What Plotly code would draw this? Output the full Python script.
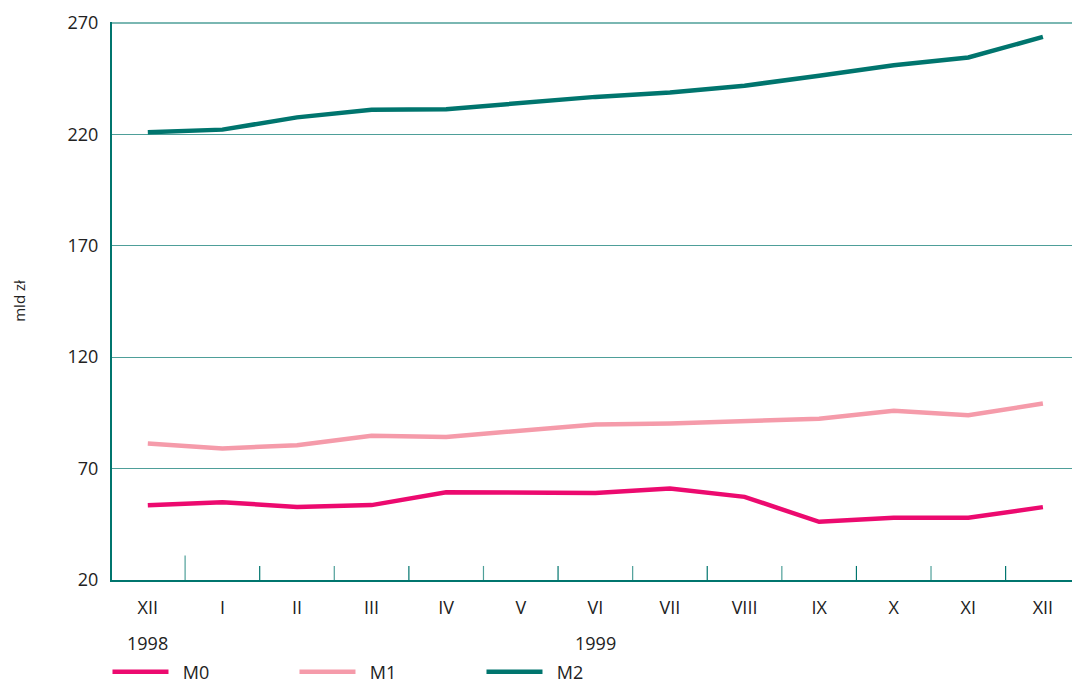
import plotly.graph_objects as go

months = ["XII", "I", "II", "III", "IV", "V", "VI", "VII", "VIII", "IX", "X", "XI", "XII"]
m0 = [53.5, 54.9, 52.8, 53.6, 59.4, 59.3, 59.0, 61.1, 57.3, 46.1, 47.9, 47.9, 52.7]
m1 = [81.2, 79.0, 80.5, 84.7, 84.2, 86.8, 89.8, 90.2, 91.4, 92.4, 95.9, 93.9, 99.2]
m2 = [220.9, 222.1, 227.6, 231.0, 231.3, 234.3, 236.8, 238.8, 241.8, 246.3, 251.0, 254.5, 263.7]
series_names = ["M0", "M1", "M2"]
colors = ["#EC0A6F", "#F59BAA", "#00756E"]
y_ticks = [20, 70, 120, 170, 220, 270]
years = [("1998", 0), ("1999", 6)]

FONT = "Open Sans"
TEAL = "#00756E"
GRID = "#4E9F99"

xs = list(range(len(months)))
fig = go.Figure()
for name, vals, col in zip(series_names, [m0, m1, m2], colors):
    fig.add_trace(go.Scatter(x=xs, y=vals, mode="lines", name="\u00a0\u00a0" + name,
                             line=dict(color=col, width=4.5)))

fig.update_layout(
    width=1072, height=683,
    margin=dict(l=112, r=0, t=22, b=103, autoexpand=False),
    paper_bgcolor="white", plot_bgcolor="white",
    font=dict(family=FONT, size=18, color="#222222"),
    showlegend=True,
    legend=dict(orientation="h", x=-0.0047, xanchor="left", y=-0.165, yanchor="middle",
                itemwidth=56, entrywidth=116, entrywidthmode="pixels",
                font=dict(family=FONT, size=18, color="#222222"),
                tracegroupgap=0, itemclick=False),
)
fig.update_xaxes(
    range=[-0.48, 12.39], automargin=False,
    tickmode="array", tickvals=xs, ticktext=months,
    showgrid=False, zeroline=False,
    showline=True, linecolor=TEAL, linewidth=2,
    ticks="", ticklabelstandoff=10,
    tickfont=dict(family=FONT, size=18, color="#222222"),
)
fig.update_yaxes(
    range=[20, 270.4], automargin=False,
    tickmode="array", tickvals=y_ticks,
    showgrid=True, gridcolor=GRID, gridwidth=1,
    zeroline=False,
    showline=True, linecolor=TEAL, linewidth=2,
    ticks="", ticklabelstandoff=8,
    title=dict(text="mld zł", font=dict(family=FONT, size=15, color="#222222"), standoff=38),
    tickfont=dict(family=FONT, size=18, color="#222222"),
)

# top grid line at the highest tick
fig.add_shape(type="line", xref="paper", yref="y", x0=0, x1=1,
              y0=y_ticks[-1], y1=y_ticks[-1], line=dict(color=GRID, width=1.5))

# separator ticks between months (drawn upward from the x axis)
for i in range(len(months) - 1):
    b = i + 0.5
    top = 31 if i == 0 else 26.3
    fig.add_shape(type="line", xref="x", yref="y", x0=b, x1=b, y0=20, y1=top,
                  line=dict(color=GRID if i % 2 == 0 else TEAL, width=1.2))

for label, idx in years:
    fig.add_annotation(x=idx, y=-0.113, xref="x", yref="paper", text=label,
                       showarrow=False, font=dict(family=FONT, size=18, color="#222222"),
                       xanchor="center", yanchor="middle")

fig.write_html("out.html", config={"displayModeBar": False},
               post_script="document.body.style.margin='0';document.body.style.padding='0';")
